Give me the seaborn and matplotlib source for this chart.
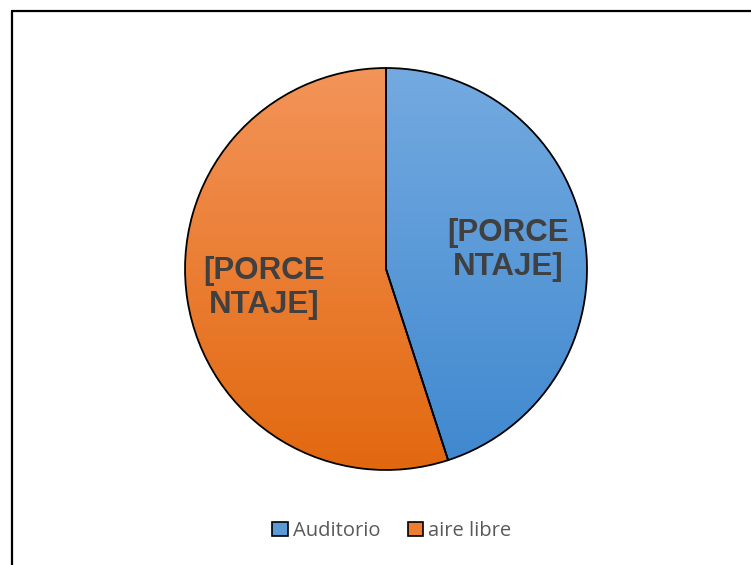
import numpy as np
import seaborn as sns
import matplotlib.pyplot as plt
from matplotlib.patches import Patch
from matplotlib.lines import Line2D
from matplotlib.colors import LinearSegmentedColormap

sns.set_style("white")

categories = ["Auditorio", "aire libre"]
values = [45, 55]
slice_labels = ["[PORCE\nNTAJE]", "[PORCE\nNTAJE]"]
top_colors = ["#74aae0", "#f39459"]
bottom_colors = ["#3f88cf", "#e2680f"]
mid_colors = ["#5b9bd5", "#ed7d31"]

fig = plt.figure(figsize=(7.51, 5.65), dpi=100)
ax = fig.add_axes([0.2437, 0.1646, 0.5406, 0.7186])

wedges, texts = ax.pie(values, labels=slice_labels, colors=mid_colors,
                       startangle=90, counterclock=False, labeldistance=0.615,
                       wedgeprops=dict(edgecolor="black", linewidth=1.3),
                       textprops=dict(fontsize=22.5, fontweight="bold",
                                      color="#404040",
                                      family="Liberation Sans",
                                      linespacing=1.18))
for t in texts:
    t.set_ha("center")
    t.set_va("center")

# vertical gradient fill clipped to each wedge
grad = np.linspace(0, 1, 256).reshape(-1, 1)
for w, c_top, c_bot in zip(wedges, top_colors, bottom_colors):
    cmap = LinearSegmentedColormap.from_list("g", [c_bot, c_top])
    im = ax.imshow(grad, cmap=cmap, extent=[-1, 1, -1, 1], origin="lower",
                   aspect="auto", zorder=w.get_zorder() + 0.1)
    im.set_clip_path(w)
    w.set_zorder(w.get_zorder() + 0.2)
    w.set_facecolor("none")
for t in texts:
    t.set_zorder(5)

ax.set_xlim(-1.01, 1.01)
ax.set_ylim(-1.01, 1.01)
ax.set_aspect("equal")
ax.axis("off")

# outer frame (left and top edges visible)
fig.add_artist(Line2D([12 / 751, 12 / 751], [0, 1 - 11 / 565],
                      color="black", linewidth=1.6))
fig.add_artist(Line2D([12 / 751, 1], [1 - 11 / 565, 1 - 11 / 565],
                      color="black", linewidth=1.6))

handles = [Patch(facecolor=c, edgecolor="black", linewidth=1.2)
           for c in mid_colors]
fig.legend(handles, categories, loc="center", bbox_to_anchor=(0.522, 0.06),
           ncol=2, frameon=False, handlelength=0.75, handleheight=0.75,
           handletextpad=0.25, columnspacing=1.4,
           prop=dict(family="Open Sans", size=14.5), labelcolor="#595959")

fig.savefig("out.png", dpi=100)
